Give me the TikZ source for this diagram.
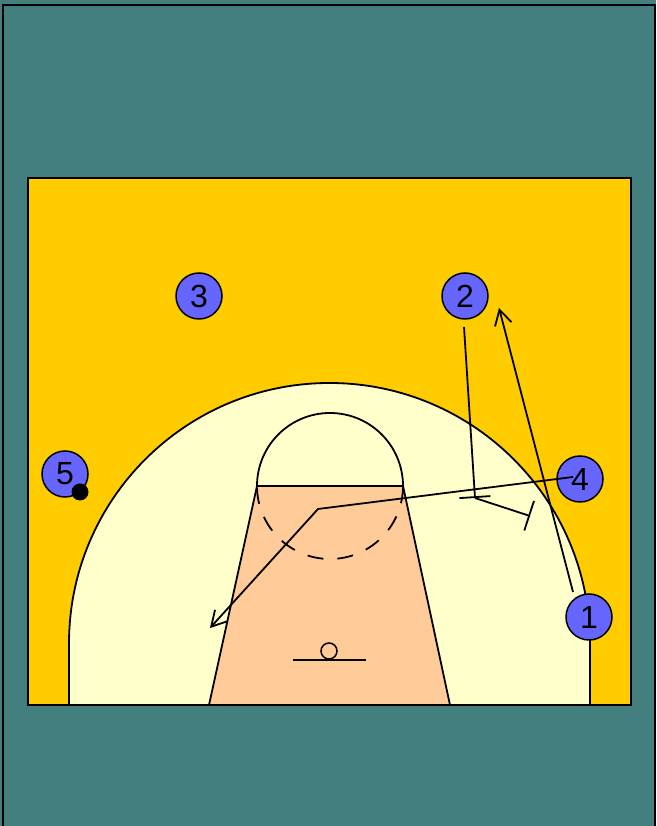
\documentclass[tikz,border=0pt]{standalone}
\usepackage{fontspec}
\setsansfont{Liberation Sans}
\usetikzlibrary{arrows.meta}
\definecolor{courtteal}{HTML}{437F7F}
\definecolor{courtgold}{HTML}{FFCC00}
\definecolor{keycream}{HTML}{FFFFCC}
\definecolor{paintpeach}{HTML}{FFCC99}
\definecolor{playerblue}{HTML}{6666FF}
\begin{document}
\begin{tikzpicture}[x=1pt,y=1pt,line/.style={line width=1.8pt},player/.style={circle,draw,line width=1.5pt,fill=playerblue,minimum size=46pt,inner sep=0pt,font=\sffamily\fontsize{32}{32}\selectfont},cut/.style={line width=1.8pt,-{Straight Barb[length=15pt,width=17pt]}},screen/.style={line width=1.8pt,-{Bar[width=31pt]}}]
\useasboundingbox (0,0) rectangle (656,826);
\fill[courtteal] (0,0) rectangle (656,826);
\draw[line width=1.5pt] (3,-10) rectangle (655,821);
% half court
\fill[courtgold] (28,121) rectangle (631,648);
\draw[line,fill=keycream] (69,121) -- (69,182.5) arc[start angle=180,end angle=0,radius=260.5pt] -- (590,121);
\draw[line,fill=paintpeach] (209,121) -- (257,340) -- (403,340) -- (450,121);
\draw[line] (257,340) arc[start angle=180,end angle=0,radius=73pt];
\draw[line,dash pattern=on 16pt off 14pt,dash phase=28pt] (257,340) arc[start angle=180,end angle=360,radius=73pt];
\draw[line] (293,166) -- (366,166);
\node[circle,draw,line width=1.5pt,minimum size=16pt,inner sep=0pt] (hoop) at (329,175) {};
\draw[line width=2.6pt] (28,121) rectangle (631,648);
% players
\node[player] (p3) at (199,530) {3};
\node[player] (p2) at (465,530) {2};
\node[player] (p5) at (65,352) {5};
\node[player] (p4) at (580,347) {4};
\node[player] (p1) at (589,209) {1};
\node[circle,fill=black,minimum size=17pt,inner sep=0pt] (ball) at (80,334) {};
% moves
\coordinate (cutfrom) at (573,234);
\coordinate (cutto) at (499,518);
\coordinate (fourfrom) at (573,349);
\coordinate (fourturn) at (318,317);
\coordinate (fourto) at (210,198);
\coordinate (scrfrom) at (464,499);
\coordinate (scrone) at (475,328);
\coordinate (scrtwo) at (530,310);
\draw[cut] (cutfrom) -- (cutto);
\draw[cut] (fourfrom) -- (fourturn) -- (fourto);
\draw[screen] (scrfrom) -- (scrone);
\draw[screen] (scrone) -- (scrtwo);
\end{tikzpicture}
\end{document}
